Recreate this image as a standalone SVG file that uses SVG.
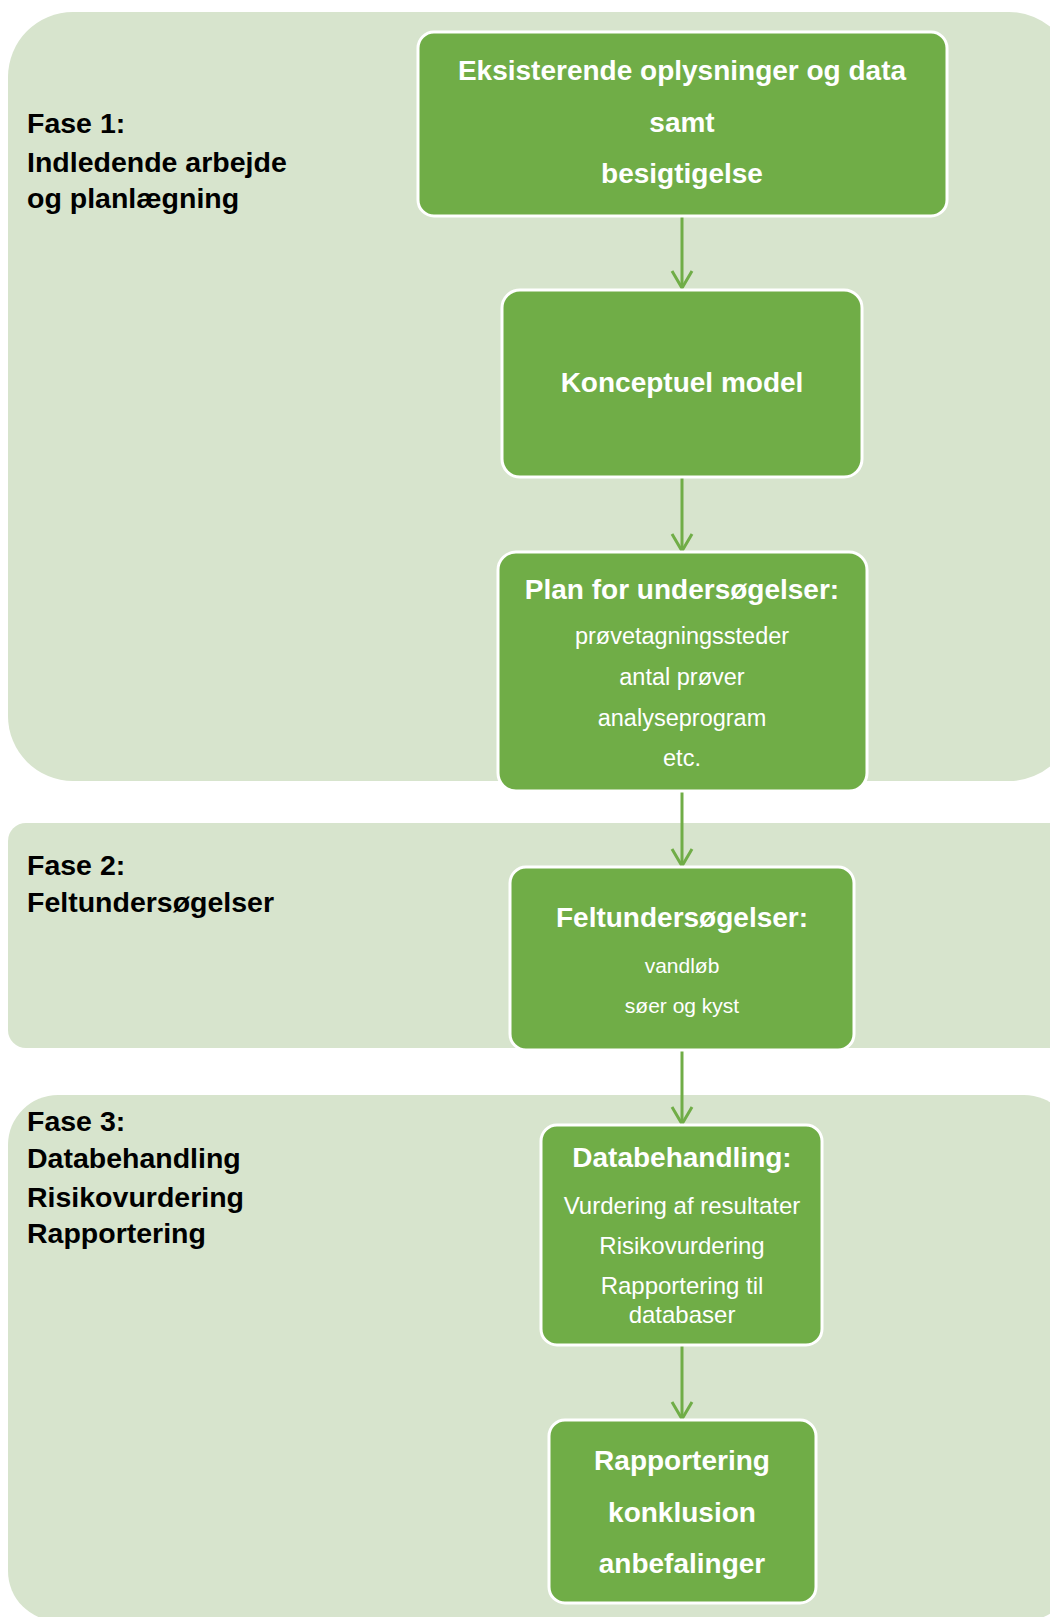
<svg xmlns="http://www.w3.org/2000/svg" width="1050" height="1617" viewBox="0 0 1050 1617">
<style>
.panel{fill:#D7E4CD;stroke:none}
.node{fill:#70AD47;stroke:#FFFFFF;stroke-width:3}
.lbl{font-family:"Liberation Sans",Arial,sans-serif;font-weight:bold;font-size:28.5px;fill:#000000}
.t{font-family:"Liberation Sans",Arial,sans-serif;font-weight:bold;font-size:28px;fill:#FFFFFF;text-anchor:middle}
.s{font-family:"Liberation Sans",Arial,sans-serif;font-size:24px;fill:#FFFFFF;text-anchor:middle}
.conn{stroke:#70AD47;stroke-width:3;fill:none}
</style>
<defs>
<marker id="arr" markerUnits="userSpaceOnUse" viewBox="0 0 24 24" markerWidth="24" markerHeight="24" refX="20" refY="12" orient="auto">
<path d="M3,2 L20,12 L3,22" fill="none" stroke="#70AD47" stroke-width="3"/>
</marker>
</defs>
<rect width="1050" height="1617" fill="#FFFFFF"/>
<g id="panels">
<rect id="phase1" class="panel" x="8" y="12" width="1066" height="769" rx="65" ry="65"/>
<rect id="phase2" class="panel" x="8" y="823" width="1062" height="225" rx="18" ry="18"/>
<rect id="phase3" class="panel" x="8" y="1095" width="1066" height="526" rx="50" ry="50"/>
</g>
<g id="labels">
<text class="lbl" x="27" y="133">Fase 1:</text>
<text class="lbl" x="27" y="172">Indledende arbejde</text>
<text class="lbl" x="27" y="208">og planlægning</text>
<text class="lbl" x="27" y="875">Fase 2:</text>
<text class="lbl" x="27" y="912">Feltundersøgelser</text>
<text class="lbl" x="27" y="1131">Fase 3:</text>
<text class="lbl" x="27" y="1168">Databehandling</text>
<text class="lbl" x="27" y="1207">Risikovurdering</text>
<text class="lbl" x="27" y="1243">Rapportering</text>
</g>
<g id="connectors">
<line class="conn" x1="682" y1="216" x2="682" y2="288" marker-end="url(#arr)"/>
<line class="conn" x1="682" y1="477" x2="682" y2="551" marker-end="url(#arr)"/>
<line class="conn" x1="682" y1="791" x2="682" y2="866" marker-end="url(#arr)"/>
<line class="conn" x1="682" y1="1050" x2="682" y2="1124" marker-end="url(#arr)"/>
<line class="conn" x1="682" y1="1345" x2="682" y2="1419" marker-end="url(#arr)"/>
</g>
<g id="node1">
<rect class="node" x="418" y="32" width="529" height="184" rx="16" ry="16"/>
<text class="t" x="682" y="80">Eksisterende oplysninger og data</text>
<text class="t" x="682" y="132">samt</text>
<text class="t" x="682" y="183">besigtigelse</text>
</g>
<g id="node2">
<rect class="node" x="502" y="290" width="360" height="187" rx="18" ry="18"/>
<text class="t" x="682" y="392">Konceptuel model</text>
</g>
<g id="node3">
<rect class="node" x="498" y="552" width="369" height="239" rx="18" ry="18"/>
<text class="t" x="682" y="599">Plan for undersøgelser:</text>
<text class="s" x="682" y="644" style="font-size:23.5px">prøvetagningssteder</text>
<text class="s" x="682" y="685" style="font-size:23.5px">antal prøver</text>
<text class="s" x="682" y="726" style="font-size:23.5px">analyseprogram</text>
<text class="s" x="682" y="766" style="font-size:23.5px">etc.</text>
</g>
<g id="node4">
<rect class="node" x="510" y="867" width="344" height="183" rx="16" ry="16"/>
<text class="t" x="682" y="927">Feltundersøgelser:</text>
<text class="s" x="682" y="973" style="font-size:21px">vandløb</text>
<text class="s" x="682" y="1013" style="font-size:21px">søer og kyst</text>
</g>
<g id="node5">
<rect class="node" x="541" y="1125" width="281" height="220" rx="16" ry="16"/>
<text class="t" x="682" y="1167">Databehandling:</text>
<text class="s" x="682" y="1214">Vurdering af resultater</text>
<text class="s" x="682" y="1254">Risikovurdering</text>
<text class="s" x="682" y="1294">Rapportering til</text>
<text class="s" x="682" y="1323">databaser</text>
</g>
<g id="node6">
<rect class="node" x="549" y="1420" width="267" height="183" rx="16" ry="16"/>
<text class="t" x="682" y="1470">Rapportering</text>
<text class="t" x="682" y="1522">konklusion</text>
<text class="t" x="682" y="1573">anbefalinger</text>
</g>
</svg>
